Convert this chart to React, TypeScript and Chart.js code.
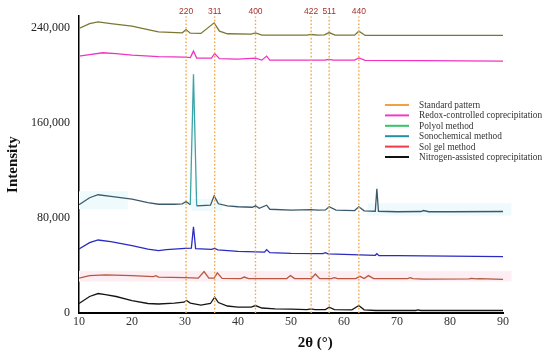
import { useEffect, useRef } from 'react';
import { Chart, registerables } from 'chart.js';

Chart.register(...registerables);

// ---- axes ----
const xTickValues = [10, 20, 30, 40, 50, 60, 70, 80, 90];
const yTickValues = [0, 80000, 160000, 240000];
const xMin = 10;
const xMax = 90;
const yMin = 0;
const yMax = 250000;

// ---- standard pattern (hkl reflections) ----
const peakLabels = ['220', '311', '400', '422', '511', '440'];
const peakPositions = [30.2, 35.6, 43.3, 53.8, 57.2, 62.8];

// ---- legend ----
const legendLabels = [
  'Standard pattern',
  'Redox-controlled coprecipitation',
  'Polyol method',
  'Sonochemical method',
  'Sol gel method',
  'Nitrogen-assisted coprecipitation',
];
const legendColors = ['#f2a13e', '#f23cc8', '#35c46a', '#2192a3', '#f2394a', '#111111'];

// ---- series (2θ, intensity) ----
const nitrogenTheta = [10, 12, 13.6, 15, 17, 20, 23, 25, 28, 29.8, 30.3, 31, 33, 34.8, 35.6, 36.3, 38, 40, 42.5, 43.3, 44.5, 47, 50, 53, 53.8, 54.5, 56.5, 57.2, 58.2, 61.5, 62.8, 63.8, 66, 73.5, 74, 74.5, 80, 90];
const nitrogenIntensity = [8000, 13900, 16400, 15500, 13900, 10500, 8000, 7600, 8400, 9100, 10500, 8400, 6700, 8000, 13300, 8800, 5900, 4900, 5000, 6300, 4200, 3500, 3200, 2900, 3500, 2800, 2900, 4900, 2800, 2700, 6300, 2700, 2100, 2100, 2600, 2100, 2100, 2100];

const solGelTheta = [10, 12, 15, 20, 24, 24.5, 25, 30, 32.5, 33.6, 34.5, 35.5, 36.1, 37, 40.5, 41.2, 42, 45, 49.2, 49.9, 50.7, 53.8, 54.6, 55.4, 57.6, 58.2, 58.8, 62.2, 63, 63.8, 64.6, 65.6, 72, 72.5, 73, 75, 83.6, 84, 85, 85.5, 90];
const solGelIntensity = [29400, 31500, 32100, 31500, 30700, 31500, 30300, 29800, 29400, 34900, 29400, 29400, 33800, 29200, 29000, 30300, 29000, 29000, 29000, 31500, 29000, 29000, 32900, 29000, 29000, 29800, 29000, 29000, 30900, 29000, 31500, 29000, 29000, 29800, 28900, 28600, 28700, 29100, 28700, 29000, 28400];

const polyolTheta = [10, 12, 13.6, 16, 20, 23, 25, 26.5, 30, 31.2, 31.6, 32, 35, 35.6, 36.2, 40, 45, 45.4, 46, 50, 56, 56.5, 57, 60, 65.9, 66.2, 66.6, 70, 80, 90];
const polyolIntensity = [53900, 59200, 61500, 60100, 56700, 53800, 52500, 53400, 54500, 54600, 72700, 54200, 53600, 54400, 53200, 51900, 51300, 53400, 50800, 50200, 50000, 50800, 49800, 49400, 48600, 49900, 48300, 48300, 47900, 47500];

const sonoTheta = [10, 12, 13.6, 16, 20, 23, 25, 28, 29.5, 30.2, 31, 31.6, 32.2, 34.8, 35.5, 36.3, 38, 40, 42.7, 43.3, 44, 45.4, 46, 50, 53.8, 55, 56.5, 57.2, 58.5, 62, 62.8, 63.8, 65.9, 66.2, 66.5, 70, 74.5, 75, 76, 80, 90];
const sonoIntensity = [91200, 97100, 99600, 98300, 96000, 92900, 91600, 91600, 92000, 93900, 91200, 201000, 90300, 90800, 98700, 92000, 90300, 89500, 89100, 90300, 88200, 90800, 87400, 86700, 87100, 86600, 86800, 89500, 86600, 86300, 89500, 86100, 85700, 104600, 85700, 85300, 85500, 86300, 85300, 85300, 85500];

const redoxTheta = [10, 12, 14.5, 17, 20, 25, 30, 31, 31.6, 32.2, 35, 35.6, 36.5, 40, 43.3, 44.5, 45.4, 46, 50, 56.5, 57.2, 58, 62, 62.8, 64, 75, 90];
const redoxIntensity = [216400, 217600, 219200, 218500, 217200, 216000, 215500, 215100, 220600, 214700, 214700, 218600, 214300, 213900, 214700, 213000, 216400, 213000, 213000, 213100, 213600, 213000, 213000, 214900, 212800, 212600, 212200];

const oliveTheta = [10, 12, 13.6, 16, 20, 23, 25, 29.5, 30.2, 31, 33, 35.5, 36.5, 38, 42.5, 43.3, 44.5, 53, 53.8, 55, 56.3, 57.2, 58.3, 62, 62.8, 64, 90];
const oliveIntensity = [239700, 243700, 245200, 243700, 241600, 238600, 236800, 236000, 238800, 235700, 235500, 244400, 237400, 235200, 234900, 236000, 234000, 234000, 234600, 234000, 234300, 236200, 234000, 234000, 237400, 233800, 233800];

// ---- faint background patches seen behind some traces: [x0, x1, y0, y1, colour] ----
const bandBoxes: [number, number, number, number, string][] = [
  [10, 91.6, 26500, 35500, '#fdeef3'],
  [10, 19.2, 87500, 102500, '#eefafc'],
  [31.2, 37, 86000, 96000, '#eefafc'],
  [64.5, 91.6, 82000, 92500, '#eefafc'],
];

const pts = (xs: number[], ys: number[]) => xs.map((x, i) => ({ x, y: ys[i] }));

const SERIF = '"Liberation Serif", "Times New Roman", serif';

export default function App() {
  const ref = useRef<HTMLCanvasElement>(null);

  useEffect(() => {
    if (!ref.current) return;

    const bandPlugin = {
      id: 'bands',
      beforeDatasetsDraw(chart: any) {
        const { ctx, scales } = chart;
        const xs = scales.x;
        const ys = scales.y;
        ctx.save();
        bandBoxes.forEach(([x0, x1, y0, y1, c]) => {
          const px0 = xs.getPixelForValue(x0);
          const px1 = xs.getPixelForValue(x1);
          const py0 = ys.getPixelForValue(y0);
          const py1 = ys.getPixelForValue(y1);
          ctx.fillStyle = c;
          ctx.fillRect(px0, py1, px1 - px0, py0 - py1);
        });
        ctx.restore();
      },
    };

    const overlayPlugin = {
      id: 'overlay',
      afterDraw(chart: any) {
        const { ctx, scales, chartArea } = chart;
        ctx.save();
        // peak labels
        ctx.font = '8.5px "Liberation Sans", Arial, sans-serif';
        ctx.fillStyle = '#a3332c';
        ctx.textAlign = 'center';
        ctx.textBaseline = 'middle';
        peakLabels.forEach((l, i) => {
          ctx.fillText(l, scales.x.getPixelForValue(peakPositions[i]), chartArea.top - 5);
        });
        // legend
        const lx = 385;
        const ly = 105;
        const step = 10.4;
        ctx.font = `9.3px ${SERIF}`;
        ctx.textAlign = 'left';
        legendLabels.forEach((l, i) => {
          const y = ly + i * step;
          ctx.strokeStyle = legendColors[i];
          ctx.lineWidth = 2;
          ctx.beginPath();
          ctx.moveTo(lx, y);
          ctx.lineTo(lx + 24, y);
          ctx.stroke();
          ctx.fillStyle = '#333';
          ctx.fillText(l, lx + 34, y + 0.5);
        });
        // x-axis title
        ctx.font = `bold 15px ${SERIF}`;
        ctx.fillStyle = '#111';
        ctx.textAlign = 'center';
        ctx.fillText('2θ (°)', chartArea.left + (chartArea.right - chartArea.left) * 0.557, 343);
        ctx.restore();
      },
    };

    const curve = (label: string, data: any[], color: string, extra: any = {}) => ({
      label,
      data,
      borderColor: color,
      backgroundColor: color,
      borderWidth: 1.3,
      pointRadius: 0,
      tension: 0,
      fill: false,
      ...extra,
    });

    const peakLines = peakPositions.map((p, i) => ({
      label: 'Standard pattern ' + peakLabels[i],
      data: [
        { x: p, y: yMin },
        { x: p, y: yMax },
      ],
      borderColor: '#efa84a',
      borderWidth: 1.4,
      borderDash: [1.6, 2],
      pointRadius: 0,
      fill: false,
      order: 0,
    }));

    const spikeX = 31.6;
    const chart = new Chart(ref.current, {
      type: 'line',
      data: {
        datasets: [
          ...peakLines,
          curve('Nitrogen-assisted coprecipitation', pts(nitrogenTheta, nitrogenIntensity), '#151515', { order: 1 }),
          curve('Sol gel method', pts(solGelTheta, solGelIntensity), '#b4593f', { order: 1 }),
          curve('Polyol method', pts(polyolTheta, polyolIntensity), '#2a2ac4', { order: 1 }),
          curve('Sonochemical method', pts(sonoTheta, sonoIntensity), '#3a5a6c', {
            order: 1,
            segment: {
              borderColor: (c: any) =>
                c.p0.parsed.x === spikeX || c.p1.parsed.x === spikeX ? '#3aa5a8' : undefined,
            },
          }),
          curve('Redox-controlled coprecipitation', pts(redoxTheta, redoxIntensity), '#f033c2', { order: 1 }),
          curve('Olive trace', pts(oliveTheta, oliveIntensity), '#7b7733', { order: 1 }),
        ],
      },
      options: {
        responsive: false,
        animation: false,
        parsing: true,
        layout: { padding: { top: 15, right: 47, left: 0, bottom: 0 } },
        plugins: {
          legend: { display: false },
          tooltip: { enabled: false },
        },
        scales: {
          x: {
            type: 'linear',
            min: xMin,
            max: xMax,
            afterBuildTicks: (s: any) => {
              s.ticks = xTickValues.map((v) => ({ value: v }));
            },
            afterFit: (s: any) => {
              s.height = 44;
            },
            grid: { display: false, drawTicks: false },
            border: { display: true, color: '#000', width: 2 },
            ticks: {
              padding: 2,
              color: '#333',
              font: { family: SERIF, size: 12 },
              maxRotation: 0,
              autoSkip: false,
            },
          },
          y: {
            type: 'linear',
            min: yMin,
            max: yMax,
            afterBuildTicks: (s: any) => {
              s.ticks = yTickValues.map((v) => ({ value: v }));
            },
            afterFit: (s: any) => {
              s.width = 79;
            },
            grid: { display: false, drawTicks: false },
            border: { display: true, color: '#000', width: 1.5 },
            ticks: {
              padding: 9,
              color: '#222',
              font: { family: SERIF, size: 12 },
              callback: (v: any) => Number(v).toLocaleString('en-US'),
            },
            title: {
              display: true,
              text: 'Intensity',
              color: '#111',
              font: { family: SERIF, size: 15, weight: 'bold' },
              padding: { top: 4, bottom: 0 },
            },
          },
        },
      },
      plugins: [bandPlugin, overlayPlugin],
    });

    return () => chart.destroy();
  }, []);

  return (
    <div style={{ position: 'absolute', left: 0, top: 0, width: 550, height: 357, background: '#fff' }}>
      <canvas ref={ref} width={550} height={357} style={{ display: 'block' }} />
    </div>
  );
}
